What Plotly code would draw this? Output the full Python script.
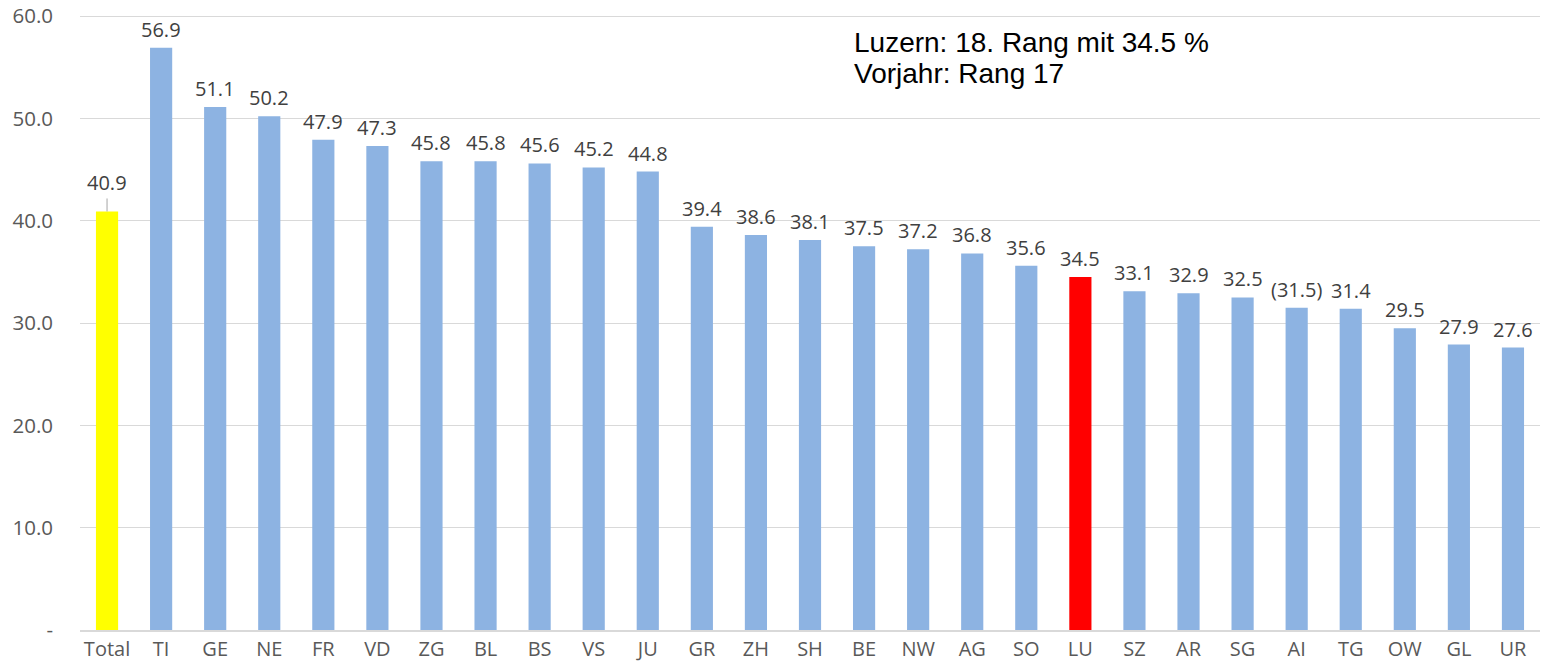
import plotly.graph_objects as go

categories = ["Total", "TI", "GE", "NE", "FR", "VD", "ZG", "BL", "BS", "VS", "JU", "GR", "ZH", "SH",
              "BE", "NW", "AG", "SO", "LU", "SZ", "AR", "SG", "AI", "TG", "OW", "GL", "UR"]
values = [40.9, 56.9, 51.1, 50.2, 47.9, 47.3, 45.8, 45.8, 45.6, 45.2, 44.8, 39.4, 38.6, 38.1,
          37.5, 37.2, 36.8, 35.6, 34.5, 33.1, 32.9, 32.5, 31.5, 31.4, 29.5, 27.9, 27.6]
labels = ["40.9", "56.9", "51.1", "50.2", "47.9", "47.3", "45.8", "45.8", "45.6", "45.2", "44.8", "39.4",
          "38.6", "38.1", "37.5", "37.2", "36.8", "35.6", "34.5", "33.1", "32.9", "32.5", "(31.5)",
          "31.4", "29.5", "27.9", "27.6"]
tick_vals = [0, 10, 20, 30, 40, 50, 60]
tick_text = ["-", "10.0", "20.0", "30.0", "40.0", "50.0", "60.0"]
note_lines = ["Luzern: 18. Rang mit 34.5 %", "Vorjahr: Rang 17"]

colors = []
for c in categories:
    if c == "Total":
        colors.append("#FFFF00")
    elif c == "LU":
        colors.append("#FF0000")
    else:
        colors.append("#8DB3E2")

FONT = "Open Sans, Noto Sans, sans-serif"
label_font = dict(family=FONT, size=20, color="#404040")

fig = go.Figure()
fig.add_trace(go.Bar(
    x=categories, y=values, marker_color=colors, marker_line_width=0,
    hoverinfo="x+y",
))

for cat, val, lab in zip(categories, values, labels):
    if cat == "Total":
        fig.add_annotation(
            x=cat, y=val, xref="x", yref="y", text=lab,
            showarrow=True, arrowhead=0, arrowwidth=1, arrowcolor="#A6A6A6",
            ax=0, ay=-13, yanchor="bottom", font=label_font,
        )
    else:
        fig.add_annotation(
            x=cat, y=val, xref="x", yref="y", text=lab, showarrow=False,
            yanchor="bottom", yshift=3, font=label_font,
        )

for line, ypos in zip(note_lines, [0.956, 0.9055]):
    fig.add_annotation(
        xref="paper", yref="paper", x=0.529, y=ypos, xanchor="left", yanchor="middle",
        text=line, showarrow=False, align="left",
        font=dict(family="Liberation Sans, Arial, sans-serif", size=28, color="#000000"),
    )

fig.update_layout(
    width=1556, height=671,
    margin=dict(l=80, r=16, t=15, b=41, autoexpand=False),
    plot_bgcolor="white", paper_bgcolor="white",
    bargap=0.59, showlegend=False,
    xaxis=dict(
        showgrid=False, showline=True, linecolor="#D9D9D9", linewidth=1.5,
        tickfont=dict(family=FONT, size=20, color="#595959"),
        ticks="", tickangle=0, automargin=False,
    ),
    yaxis=dict(
        range=[0, 60.1], tickvals=tick_vals, ticktext=tick_text,
        showgrid=True, gridcolor="#D9D9D9", gridwidth=1.2, zeroline=False,
        tickfont=dict(family=FONT, size=20.5, color="#595959"),
        ticks="", ticklabelstandoff=26, automargin=False,
    ),
)

fig.write_html(
    "out.html",
    config={"displayModeBar": False},
    post_script="document.body.style.margin='0';document.body.style.overflow='hidden';",
)
